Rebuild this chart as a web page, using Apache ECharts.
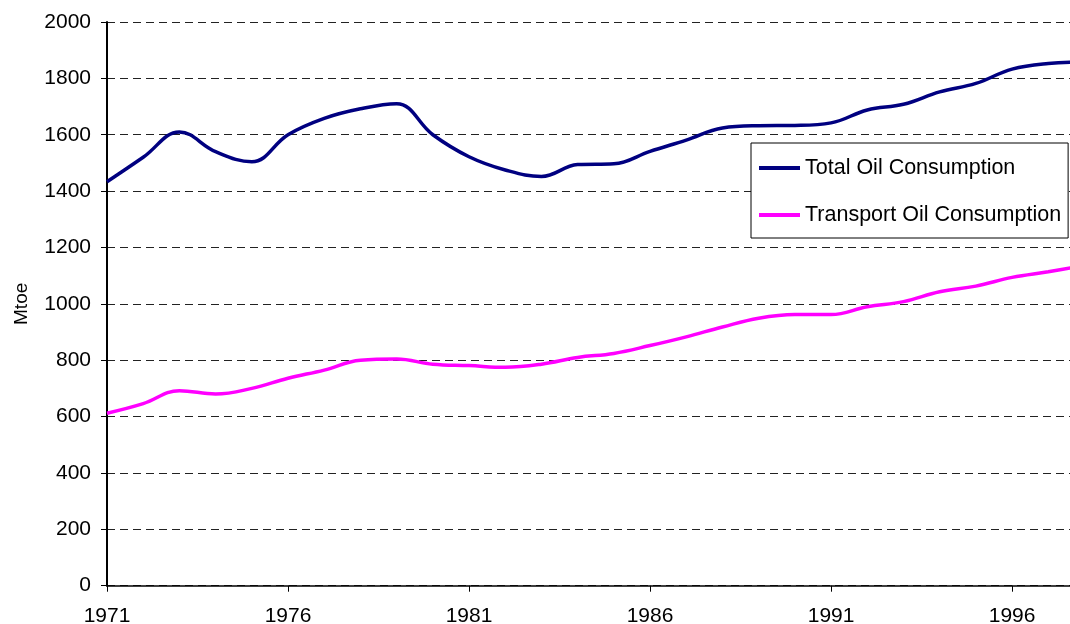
<!DOCTYPE html>
<html>
<head>
<meta charset="utf-8">
<script src="https://cdn.jsdelivr.net/npm/echarts@6/dist/echarts.min.js"></script>
<style>html,body{margin:0;padding:0;background:#fff;overflow:hidden;}#c{width:1070px;height:624px;}</style>
</head>
<body>
<div id="c"></div>
<script>
var years = [1971,1972,1973,1974,1975,1976,1977,1978,1979,1980,1981,1982,1983,1984,1985,1986,1987,1988,1989,1990,1991,1992,1993,1994,1995,1996,1997,1998];
var totalOil = [1433,1520,1610,1540,1504,1600,1658,1692,1710,1600,1522,1475,1452,1494,1497,1541,1581,1624,1632,1633,1642,1688,1708,1752,1782,1833,1853,1858];
var transportOil = [612,646,692,680,700,736,765,800,804,786,781,775,786,810,824,852,883,918,949,962,962,990,1008,1043,1063,1094,1114,1136];
var xTickYears = [1971,1976,1981,1986,1991,1996];
var yTicks = {min:0, max:2000, interval:200};
var xRange = {min:1971, max:1997.6};
var seriesNames = ['Total Oil Consumption','Transport Oil Consumption'];

function pairs(vals){ return years.map(function(y,i){ return [y, vals[i]]; }); }

var chart = echarts.init(document.getElementById('c'), null, {renderer:'canvas'});
var font = 'Liberation Sans, Arial, sans-serif';
chart.setOption({
  animation:false,
  backgroundColor:'#fff',
  grid:{left:107, top:22, bottom:38.3, right:0, containLabel:false, outerBoundsMode:'none'},
  legend:{
    orient:'vertical', left:751, top:143,
    padding:[14,7,12,8],
    itemGap:25, itemWidth:41, itemHeight:4, icon:'rect',
    borderColor:'#000', borderWidth:1, backgroundColor:'#fff',
    textStyle:{fontFamily:font, fontSize:21.5, color:'#000', lineHeight:22},
    data:seriesNames
  },
  xAxis:{
    type:'value', min:xRange.min, max:xRange.max,
    axisLine:{show:true, lineStyle:{color:'#000', width:1.5}},
    axisTick:{show:true, customValues:xTickYears, length:6, lineStyle:{color:'#000'}},
    axisLabel:{customValues:xTickYears, margin:20, fontFamily:font, fontSize:21, color:'#000', formatter:function(v){return String(v);}},
    splitLine:{show:false}
  },
  yAxis:{
    type:'value', min:yTicks.min, max:yTicks.max, interval:yTicks.interval,
    name:'Mtoe', nameLocation:'middle', nameRotate:90, nameGap:76,
    nameTextStyle:{fontFamily:font, fontSize:19, color:'#000'},
    axisLine:{show:true, lineStyle:{color:'#000', width:2}},
    axisTick:{show:true, length:6, lineStyle:{color:'#000'}},
    axisLabel:{margin:16, fontFamily:font, fontSize:21, color:'#000', formatter:function(v){return String(v);}},
    splitLine:{show:true, lineStyle:{color:'#222', width:1, type:[8,5]}}
  },
  series:[
    {name:seriesNames[0], type:'line', data:pairs(totalOil), smooth:0.4, showSymbol:false, symbol:'none', clip:true,
     lineStyle:{color:'#000080', width:3.5}, itemStyle:{color:'#000080'}},
    {name:seriesNames[1], type:'line', data:pairs(transportOil), smooth:0.4, showSymbol:false, symbol:'none', clip:true,
     lineStyle:{color:'#FF00FF', width:3.5}, itemStyle:{color:'#FF00FF'}}
  ]
});
</script>
</body>
</html>
